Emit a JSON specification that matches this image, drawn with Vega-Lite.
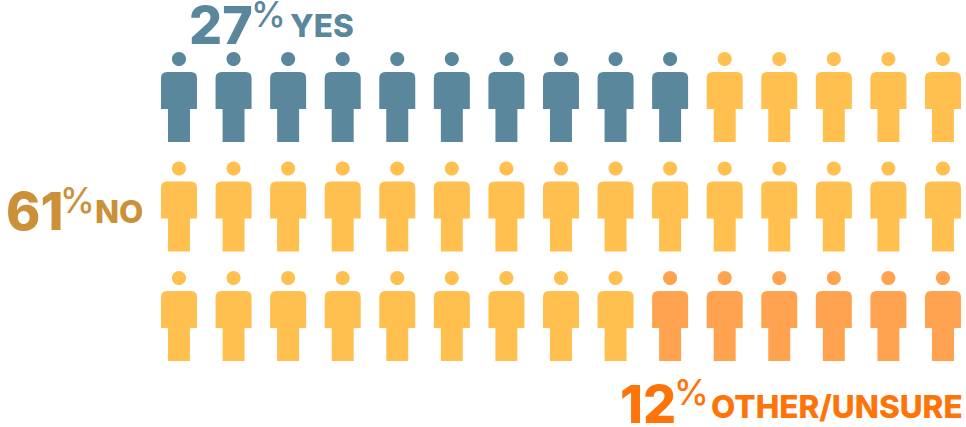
{
  "$schema": "https://vega.github.io/schema/vega-lite/v6.json",
  "width": 966,
  "height": 427,
  "padding": 0,
  "autosize": {"type": "none"},
  "background": "white",
  "view": {"stroke": null},
  "datasets": {
    "people": [
      {"col":1,"row":1,"answer":"Yes"},{"col":2,"row":1,"answer":"Yes"},{"col":3,"row":1,"answer":"Yes"},{"col":4,"row":1,"answer":"Yes"},{"col":5,"row":1,"answer":"Yes"},
      {"col":6,"row":1,"answer":"Yes"},{"col":7,"row":1,"answer":"Yes"},{"col":8,"row":1,"answer":"Yes"},{"col":9,"row":1,"answer":"Yes"},{"col":10,"row":1,"answer":"Yes"},
      {"col":11,"row":1,"answer":"No"},{"col":12,"row":1,"answer":"No"},{"col":13,"row":1,"answer":"No"},{"col":14,"row":1,"answer":"No"},{"col":15,"row":1,"answer":"No"},
      {"col":1,"row":2,"answer":"No"},{"col":2,"row":2,"answer":"No"},{"col":3,"row":2,"answer":"No"},{"col":4,"row":2,"answer":"No"},{"col":5,"row":2,"answer":"No"},
      {"col":6,"row":2,"answer":"No"},{"col":7,"row":2,"answer":"No"},{"col":8,"row":2,"answer":"No"},{"col":9,"row":2,"answer":"No"},{"col":10,"row":2,"answer":"No"},
      {"col":11,"row":2,"answer":"No"},{"col":12,"row":2,"answer":"No"},{"col":13,"row":2,"answer":"No"},{"col":14,"row":2,"answer":"No"},{"col":15,"row":2,"answer":"No"},
      {"col":1,"row":3,"answer":"No"},{"col":2,"row":3,"answer":"No"},{"col":3,"row":3,"answer":"No"},{"col":4,"row":3,"answer":"No"},{"col":5,"row":3,"answer":"No"},
      {"col":6,"row":3,"answer":"No"},{"col":7,"row":3,"answer":"No"},{"col":8,"row":3,"answer":"No"},{"col":9,"row":3,"answer":"No"},
      {"col":10,"row":3,"answer":"Other"},{"col":11,"row":3,"answer":"Other"},{"col":12,"row":3,"answer":"Other"},{"col":13,"row":3,"answer":"Other"},{"col":14,"row":3,"answer":"Other"},{"col":15,"row":3,"answer":"Other"}
    ],
    "answers": [
      {"answer":"Yes","pct":27,"word":"YES"},
      {"answer":"No","pct":61,"word":"NO"},
      {"answer":"Other","pct":12,"word":"OTHER/UNSURE"}
    ]
  },
  "layer": [
    {
      "data": {"name": "people"},
      "mark": {
        "type": "point",
        "filled": true,
        "opacity": 1,
        "size": 8100,
        "shape": "M-0.4,-0.42 Q-0.4,-0.556 -0.264,-0.556 L0.264,-0.556 Q0.4,-0.556 0.4,-0.42 L0.4,0.267 L0.244,0.267 L0.244,1 L-0.244,1 L-0.244,0.267 L-0.4,0.267 Z M-0.156,-0.844 A0.156,0.156 0 1 1 0.156,-0.844 A0.156,0.156 0 1 1 -0.156,-0.844 Z"
      },
      "encoding": {
        "x": {"field": "col", "type": "quantitative", "axis": null, "scale": {"domain": [-2.28, 15.422], "range": [0, 966], "nice": false, "zero": false}},
        "y": {"field": "row", "type": "quantitative", "axis": null, "scale": {"domain": [0.114, 4.014], "range": [0, 427], "nice": false, "zero": false}},
        "color": {"field": "answer", "type": "nominal", "legend": null, "scale": {"domain": ["Yes", "No", "Other"], "range": ["#5b879c", "#ffc04f", "#ffa351"]}}
      }
    },
    {
      "data": {"name": "answers"},
      "transform": [{"filter": "datum.answer === 'Yes'"}],
      "mark": {"type": "text", "align": "left", "baseline": "alphabetic", "font": "Inter", "fontWeight": 800, "fontSize": 52, "color": "#5b879c"},
      "encoding": {"x": {"datum": 1.183, "type": "quantitative"}, "y": {"datum": 0.516, "type": "quantitative"}, "text": {"field": "pct"}}
    },
    {
      "data": {"name": "answers"},
      "transform": [{"filter": "datum.answer === 'Yes'"}],
      "mark": {"type": "text", "align": "left", "baseline": "alphabetic", "font": "Inter", "fontWeight": 500, "fontSize": 35, "color": "#5b879c"},
      "encoding": {"x": {"datum": 2.32, "type": "quantitative"}, "y": {"datum": 0.361, "type": "quantitative"}, "text": {"value": "%"}}
    },
    {
      "data": {"name": "answers"},
      "transform": [{"filter": "datum.answer === 'Yes'"}],
      "mark": {"type": "text", "align": "left", "baseline": "alphabetic", "font": "Inter", "fontWeight": 800, "fontSize": 31.5, "color": "#5b879c"},
      "encoding": {"x": {"datum": 3.034, "type": "quantitative"}, "y": {"datum": 0.452, "type": "quantitative"}, "text": {"field": "word"}}
    },
    {
      "data": {"name": "answers"},
      "transform": [{"filter": "datum.answer === 'No'"}],
      "mark": {"type": "text", "align": "left", "baseline": "alphabetic", "font": "Inter", "fontWeight": 800, "fontSize": 52, "color": "#cc9138"},
      "encoding": {"x": {"datum": -2.17, "type": "quantitative"}, "y": {"datum": 2.215, "type": "quantitative"}, "text": {"field": "pct"}}
    },
    {
      "data": {"name": "answers"},
      "transform": [{"filter": "datum.answer === 'No'"}],
      "mark": {"type": "text", "align": "left", "baseline": "alphabetic", "font": "Inter", "fontWeight": 500, "fontSize": 35, "color": "#cc9138"},
      "encoding": {"x": {"datum": -1.18, "type": "quantitative"}, "y": {"datum": 2.059, "type": "quantitative"}, "text": {"value": "%"}}
    },
    {
      "data": {"name": "answers"},
      "transform": [{"filter": "datum.answer === 'No'"}],
      "mark": {"type": "text", "align": "left", "baseline": "alphabetic", "font": "Inter", "fontWeight": 800, "fontSize": 31.5, "color": "#cc9138"},
      "encoding": {"x": {"datum": -0.539, "type": "quantitative"}, "y": {"datum": 2.151, "type": "quantitative"}, "text": {"field": "word"}}
    },
    {
      "data": {"name": "answers"},
      "transform": [{"filter": "datum.answer === 'Other'"}],
      "mark": {"type": "text", "align": "left", "baseline": "alphabetic", "font": "Inter", "fontWeight": 800, "fontSize": 52, "color": "#ff7409"},
      "encoding": {"x": {"datum": 9.081, "type": "quantitative"}, "y": {"datum": 3.977, "type": "quantitative"}, "text": {"field": "pct"}}
    },
    {
      "data": {"name": "answers"},
      "transform": [{"filter": "datum.answer === 'Other'"}],
      "mark": {"type": "text", "align": "left", "baseline": "alphabetic", "font": "Inter", "fontWeight": 500, "fontSize": 35, "color": "#ff7409"},
      "encoding": {"x": {"datum": 10.07, "type": "quantitative"}, "y": {"datum": 3.813, "type": "quantitative"}, "text": {"value": "%"}}
    },
    {
      "data": {"name": "answers"},
      "transform": [{"filter": "datum.answer === 'Other'"}],
      "mark": {"type": "text", "align": "left", "baseline": "alphabetic", "font": "Inter", "fontWeight": 800, "fontSize": 31.5, "color": "#ff7409"},
      "encoding": {"x": {"datum": 10.749, "type": "quantitative"}, "y": {"datum": 3.932, "type": "quantitative"}, "text": {"field": "word"}}
    }
  ]
}
